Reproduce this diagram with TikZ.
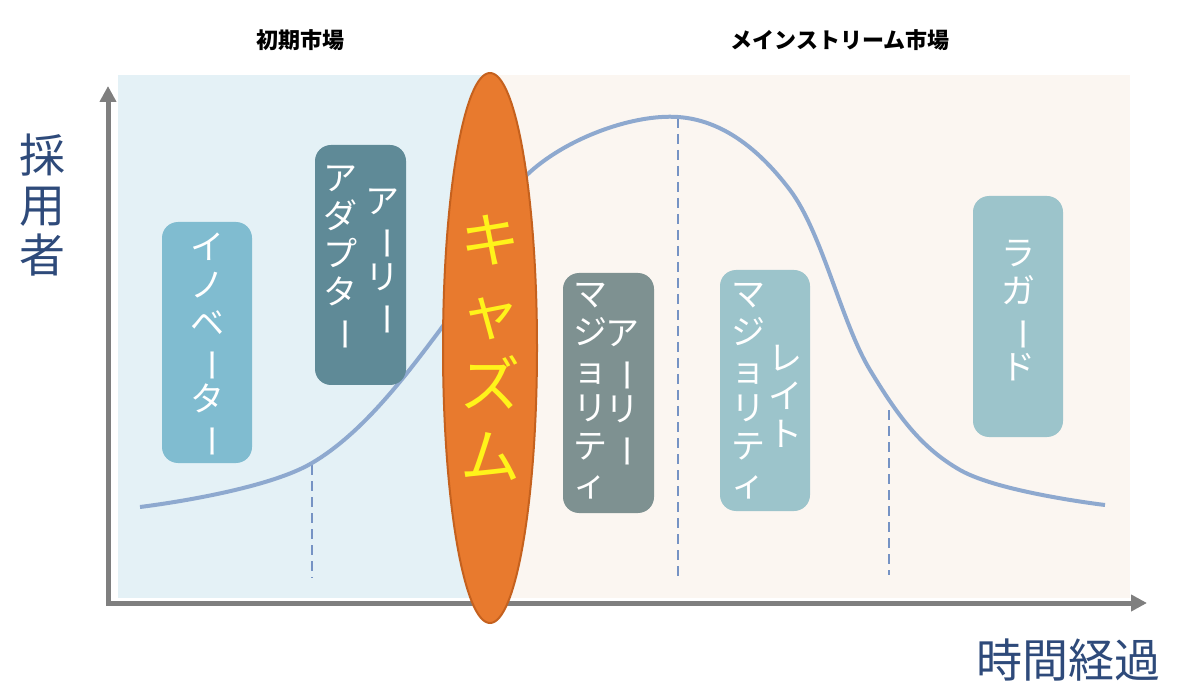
\documentclass[tikz,border=0pt]{standalone}
\usepackage{fontspec}
\usetikzlibrary{arrows.meta,shapes.geometric}
\newfontfamily\jp{Noto Sans CJK JP}
\newfontfamily\vjp{Noto Sans CJK JP}
\newcommand{\vb}{\rotatebox[origin=c]{-90}{ー}}
\definecolor{bgl}{HTML}{E4F1F6}
\definecolor{bgr}{HTML}{FBF6F1}
\definecolor{axg}{HTML}{7F7F7F}
\definecolor{crv}{HTML}{8EA9CF}
\definecolor{dsh}{HTML}{7693C4}
\definecolor{orng}{HTML}{E87A2E}
\definecolor{orngd}{HTML}{C5611E}
\definecolor{ttl}{HTML}{2E4A7A}
\definecolor{cA}{HTML}{80BCD0}
\definecolor{cB}{HTML}{5F8A97}
\definecolor{cC}{HTML}{7E9191}
\definecolor{cD}{HTML}{9CC4CB}
\tikzset{
 boxs/.style={rounded corners=8pt,inner sep=0pt},
 vtxt/.style={font=\vjp\fontsize{17}{19}\selectfont,text=white,align=center,anchor=north,inner sep=0pt},
 dline/.style={dsh,line width=1.2pt,dash pattern=on 5pt off 3pt}
}
\begin{document}
\begin{tikzpicture}[x=0.5pt,y=-0.5pt]
\useasboundingbox (0,0) rectangle (1200,695);
\fill[bgl] (118,75) rectangle (490,598);
\fill[bgr] (490,75) rectangle (1130,598);
\draw[dline] (312,465) -- (312,578);
\draw[dline] (678,118) -- (678,578);
\draw[dline] (889,410) -- (889,575);
\draw[crv,line width=2pt] plot[smooth,tension=0.6] coordinates{(140,507) (312,463) (440,330) (530,172) (678,117) (790,190) (870,370) (960,470) (1105,505)};
\draw[axg,line width=2.5pt,-{Triangle[length=8pt,width=8pt]}] (108,603) -- (108,86);
\draw[axg,line width=2.5pt,-{Triangle[length=8pt,width=8pt]}] (106,603) -- (1147,603);
\node[ellipse,fill=orng,draw=orngd,line width=1pt,minimum width=47pt,minimum height=275pt,inner sep=0pt] (chasm) at (490,348) {};
\node[font=\vjp\fontsize{30}{36}\selectfont,text=yellow!90!white,align=center,inner sep=0pt] (ct) at (chasm) {キ\\ャ\\ズ\\ム};
\fill[cA,boxs] (162,222) rectangle (252,463);
\node[vtxt] (t1) at (207,232) {イ\\ノ\\ベ\\\vb\\タ\\\vb};
\fill[cB,boxs] (315,145) rectangle (406,385);
\node[vtxt] (t2a) at (382,188) {ア\\\vb\\リ\\\vb};
\node[vtxt] (t2b) at (340,165) {ア\\ダ\\プ\\タ\\\vb};
\fill[cC,boxs] (563,273) rectangle (654,513);
\node[vtxt] (t3a) at (622,320) {ア\\\vb\\リ\\\vb};
\node[vtxt] (t3b) at (590,283) {マ\\ジ\\ョ\\リ\\テ\\ィ};
\fill[cD,boxs] (720,270) rectangle (810,511);
\node[vtxt] (t4a) at (785,345) {レ\\イ\\ト};
\node[vtxt] (t4b) at (748,283) {マ\\ジ\\ョ\\リ\\テ\\ィ};
\fill[cD,boxs] (973,196) rectangle (1063,437);
\node[vtxt] (t5) at (1018,240) {ラ\\ガ\\\vb\\ド};
\node[font=\jp\bfseries\fontsize{11}{12}\selectfont] (h1) at (300,40) {初期市場};
\node[font=\jp\bfseries\fontsize{11}{12}\selectfont] (h2) at (840,40) {メインストリーム市場};
\node[font=\vjp\fontsize{23}{25}\selectfont,text=ttl,align=center,inner sep=0pt] (ya) at (42,205) {採\\用\\者};
\node[font=\jp\fontsize{23}{24}\selectfont,text=ttl,inner sep=0pt] (xa) at (1068,660) {時間経過};
\end{tikzpicture}
\end{document}
